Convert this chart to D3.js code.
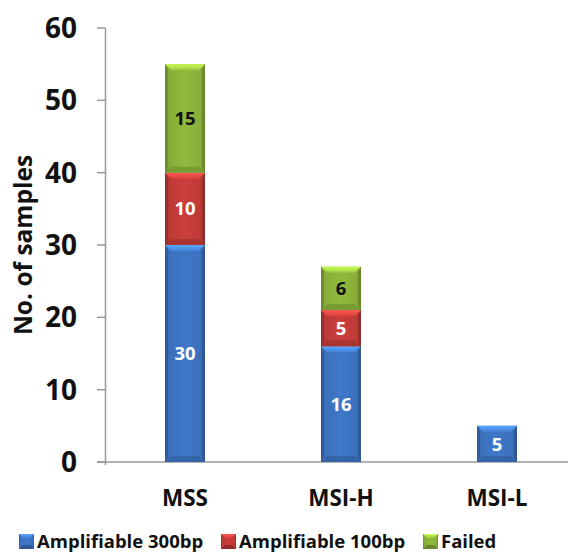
<!DOCTYPE html>
<html>
<head>
<meta charset="utf-8">
<script src="https://cdn.jsdelivr.net/npm/d3@7"></script>
<style>
  html, body { margin: 0; padding: 0; background: #fff; }
  svg { display: block; font-family: "Open Sans", Lato, sans-serif; font-weight: bold; }
</style>
</head>
<body>
<svg id="chart" width="568" height="552"></svg>
<script>
// Sample groups and stacked counts
const categories = ["MSS", "MSI-H", "MSI-L"];
const seriesNames = ["Amplifiable 300bp", "Amplifiable 100bp", "Failed"];
const amplifiable300 = [30, 16, 5];
const amplifiable100 = [10, 5, 0];
const failed = [15, 6, 0];
const yTicks = [0, 10, 20, 30, 40, 50, 60];

const colors = ["#3d74c2", "#c43c39", "#8cb33b"];
const labelColors = ["#ffffff", "#ffffff", "#111111"];

const rows = categories.map((c, i) => ({
  cat: c, a300: amplifiable300[i], a100: amplifiable100[i], fail: failed[i]
}));
const keys = ["a300", "a100", "fail"];
const stacked = d3.stack().keys(keys)(rows);

const svg = d3.select("#chart");

const x = d3.scaleBand().domain(categories).range([107, 575]).paddingInner(0.744).paddingOuter(0.372);
const y = d3.scaleLinear().domain([0, 60]).range([462, 28]);

// gradients: darker edges, lighter middle for a bevelled column look
const defs = svg.append("defs");
colors.forEach((c, i) => {
  const g = defs.append("linearGradient").attr("id", "body" + i)
    .attr("x1", "0").attr("x2", "1").attr("y1", "0").attr("y2", "0");
  const base = d3.color(c);
  g.append("stop").attr("offset", "0").attr("stop-color", base.darker(0.6));
  g.append("stop").attr("offset", "0.1").attr("stop-color", base.darker(0.1));
  g.append("stop").attr("offset", "0.5").attr("stop-color", base.brighter(0.1));
  g.append("stop").attr("offset", "0.9").attr("stop-color", base.darker(0.1));
  g.append("stop").attr("offset", "1").attr("stop-color", base.darker(0.7));
  const t = defs.append("linearGradient").attr("id", "top" + i)
    .attr("x1", "0").attr("x2", "0").attr("y1", "0").attr("y2", "1");
  t.append("stop").attr("offset", "0").attr("stop-color", base.brighter(1.0));
  t.append("stop").attr("offset", "1").attr("stop-color", base.brighter(0.3));
});

// axes
const axisColor = "#9a9a9a";
svg.append("line").attr("x1", 105.5).attr("x2", 105.5).attr("y1", y(60)).attr("y2", y(0) + 3)
  .attr("stroke", axisColor).attr("stroke-width", 1.5);
svg.append("line").attr("x1", 97).attr("x2", 568).attr("y1", y(0)).attr("y2", y(0))
  .attr("stroke", axisColor).attr("stroke-width", 1.5);
const yt = svg.append("g");
yt.selectAll("line").data(yTicks).join("line")
  .attr("x1", 97).attr("x2", 105.5).attr("y1", d => y(d)).attr("y2", d => y(d))
  .attr("stroke", axisColor).attr("stroke-width", 1.5);
yt.selectAll("text").data(yTicks).join("text")
  .attr("x", 77).attr("y", d => y(d)).attr("dy", "0.36em")
  .attr("text-anchor", "end").attr("font-size", 28).attr("fill", "#111")
  .text(d => d);

svg.append("text")
  .attr("transform", `translate(32,${y(30)}) rotate(-90)`)
  .attr("text-anchor", "middle").attr("font-size", 24.5).attr("fill", "#111")
  .text("No. of samples");

svg.append("g").selectAll("text").data(categories).join("text")
  .attr("x", d => x(d) + x.bandwidth() / 2).attr("y", 506)
  .attr("text-anchor", "middle").attr("font-size", 22.5).attr("fill", "#111")
  .text(d => d);

// bevelled segment
function bevel(g, x0, y0, w, h, i) {
  const b = Math.min(6, h / 2);
  g.append("rect").attr("x", x0).attr("y", y0).attr("width", w).attr("height", h)
    .attr("fill", `url(#body${i})`);
  g.append("polygon")
    .attr("points", [[x0, y0], [x0 + w, y0], [x0 + w - b, y0 + b], [x0 + b, y0 + b]].join(" "))
    .attr("fill", `url(#top${i})`);
  g.append("polygon")
    .attr("points", [[x0, y0 + h], [x0 + w, y0 + h], [x0 + w - b, y0 + h - b], [x0 + b, y0 + h - b]].join(" "))
    .attr("fill", d3.color(colors[i]).darker(0.6)).attr("opacity", 0.7);
  g.append("polygon")
    .attr("points", [[x0, y0], [x0 + 3, y0 + b], [x0 + 3, y0 + h - b], [x0, y0 + h]].join(" "))
    .attr("fill", d3.color(colors[i]).darker(0.9)).attr("opacity", 0.6);
  g.append("polygon")
    .attr("points", [[x0 + w, y0], [x0 + w - 3, y0 + b], [x0 + w - 3, y0 + h - b], [x0 + w, y0 + h]].join(" "))
    .attr("fill", d3.color(colors[i]).darker(1.0)).attr("opacity", 0.6);
}

const bars = svg.append("g");
stacked.forEach((layer, i) => {
  layer.forEach(seg => {
    const v = seg[1] - seg[0];
    if (v <= 0) return;
    const x0 = x(seg.data.cat), w = x.bandwidth();
    const y0 = y(seg[1]), h = y(seg[0]) - y(seg[1]);
    const g = bars.append("g");
    bevel(g, x0, y0, w, h, i);
    g.append("text").attr("x", x0 + w / 2).attr("y", y0 + h / 2).attr("dy", "0.36em")
      .attr("text-anchor", "middle").attr("font-size", 18.5).attr("fill", labelColors[i])
      .text(v);
  });
});

// legend
const legendX = [19, 221, 423];
const lg = svg.append("g");
seriesNames.forEach((n, i) => {
  const g = lg.append("g");
  const s = 15, sx = legendX[i], sy = 534;
  g.append("rect").attr("x", sx).attr("y", sy).attr("width", s).attr("height", s).attr("fill", `url(#body${i})`);
  g.append("polygon").attr("points", [[sx, sy], [sx + s, sy], [sx + s - 4, sy + 4], [sx + 4, sy + 4]].join(" "))
    .attr("fill", `url(#top${i})`);
  g.append("polygon").attr("points", [[sx, sy + s], [sx + s, sy + s], [sx + s - 4, sy + s - 4], [sx + 4, sy + s - 4]].join(" "))
    .attr("fill", d3.color(colors[i]).darker(0.8));
  g.append("text").attr("x", sx + s + 3).attr("y", sy + s / 2).attr("dy", "0.36em")
    .attr("font-size", 18.5).attr("fill", "#111").text(n);
});
</script>
</body>
</html>
